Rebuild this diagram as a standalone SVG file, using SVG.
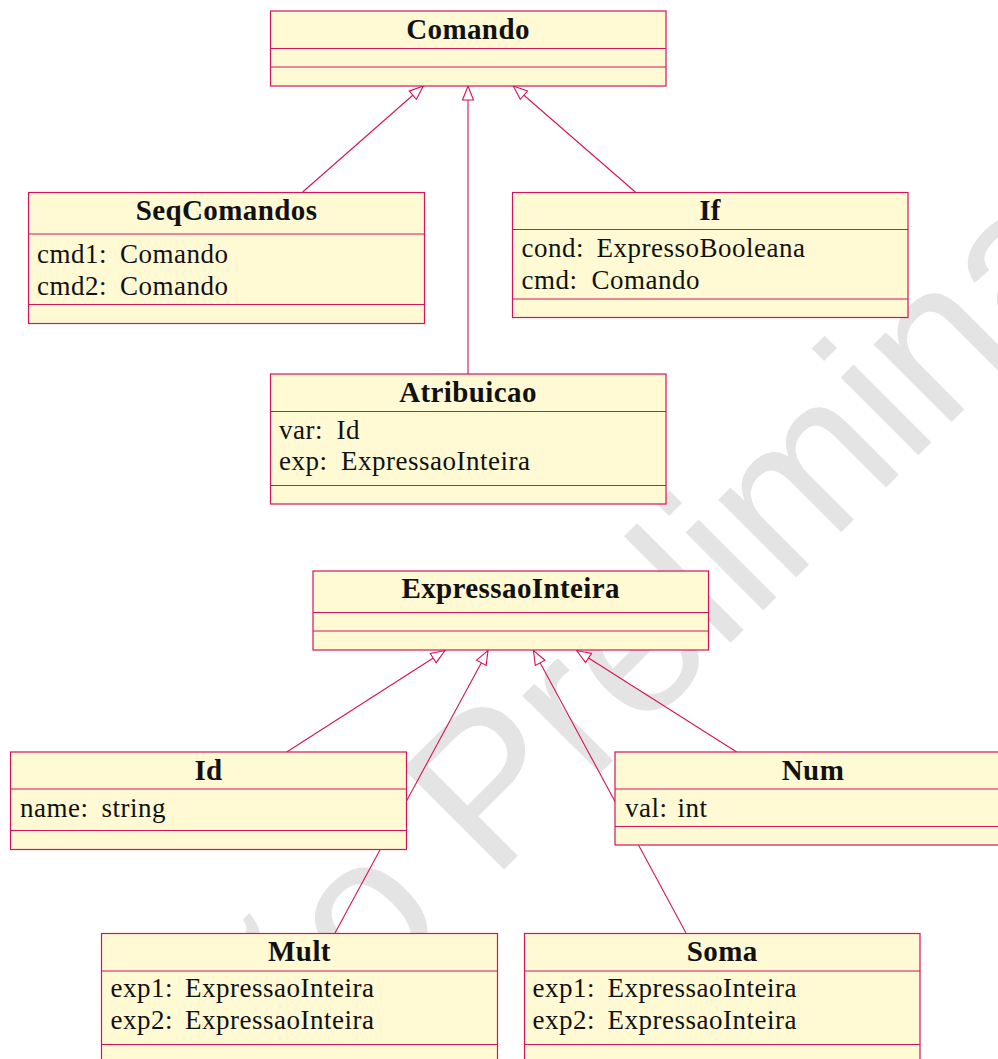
<svg xmlns="http://www.w3.org/2000/svg" width="998" height="1059" viewBox="0 0 998 1059">
  <defs>
    <style>
      .box { fill: #fff9d4; stroke: #d4145a; stroke-width: 1.2; }
      .sep { stroke: #d4145a; stroke-width: 1.2; }
      .edge { stroke: #d4145a; stroke-width: 1.1; fill: none; marker-end: url(#inherit); }
      .title { font-family: "Liberation Serif", "DejaVu Serif", serif; font-weight: bold; font-size: 29px; letter-spacing: 0.4px; text-anchor: middle; fill: #111; }
      .attr { font-family: "Liberation Serif", "DejaVu Serif", serif; font-size: 27px; letter-spacing: 0.5px; fill: #111; }
      .mark { font-family: "Liberation Sans", Arial, sans-serif; font-size: 208px; fill: #e4e4e4; text-anchor: middle; }
    </style>
    <!-- hollow triangle for generalisation -->
    <marker id="inherit" markerUnits="userSpaceOnUse" markerWidth="16" markerHeight="14" refX="15" refY="6.5" orient="auto">
      <path d="M1,1 L15,6.5 L1,12 Z" fill="#ffffff" stroke="#d4145a" stroke-width="1.1"/>
    </marker>
  </defs>

  <rect width="998" height="1059" fill="#ffffff"/>

  <!-- background watermark -->
  <text class="mark" transform="translate(573.5,800) rotate(-45)" x="0" y="0">Versão Preliminar</text>

  <!-- connectors -->
  <g id="connectors">
    <line class="edge" x1="302.7" y1="192" x2="423.3" y2="86"/>
    <line class="edge" x1="468" y1="374" x2="468" y2="86"/>
    <line class="edge" x1="635.3" y1="192" x2="513.3" y2="86"/>
    <line class="edge" x1="286.7" y1="752" x2="445" y2="650.5"/>
    <line class="edge" x1="335" y1="933" x2="488" y2="650.5"/>
    <line class="edge" x1="686" y1="933" x2="533.5" y2="650.5"/>
    <line class="edge" x1="736.7" y1="752" x2="576.7" y2="650.5"/>
  </g>

  <!-- classes -->
  <g id="Comando">
    <rect class="box" x="270.5" y="11" width="395.5" height="75"/>
    <line class="sep" x1="270.5" y1="48.5" x2="666" y2="48.5"/>
    <line class="sep" x1="270.5" y1="67" x2="666" y2="67"/>
    <text class="title" x="468" y="39">Comando</text>
  </g>

  <g id="SeqComandos">
    <rect class="box" x="28.5" y="192.5" width="396" height="131"/>
    <line class="sep" x1="28.5" y1="234" x2="424.5" y2="234"/>
    <line class="sep" x1="28.5" y1="304.5" x2="424.5" y2="304.5"/>
    <text class="title" x="226.5" y="220">SeqComandos</text>
    <text class="attr" x="37" y="263">cmd1: <tspan x="120">Comando</tspan></text>
    <text class="attr" x="37" y="295">cmd2: <tspan x="120">Comando</tspan></text>
  </g>

  <g id="If">
    <rect class="box" x="512.5" y="192.5" width="395.5" height="125"/>
    <line class="sep" x1="512.5" y1="229.5" x2="908" y2="229.5"/>
    <line class="sep" x1="512.5" y1="299" x2="908" y2="299"/>
    <text class="title" x="710" y="220">If</text>
    <text class="attr" x="521.5" y="257">cond: <tspan x="596.5">ExpressoBooleana</tspan></text>
    <text class="attr" x="521.5" y="289">cmd: <tspan x="591.5">Comando</tspan></text>
  </g>

  <g id="Atribuicao">
    <rect class="box" x="270.5" y="374" width="395.5" height="130"/>
    <line class="sep" x1="270.5" y1="411.5" x2="666" y2="411.5"/>
    <line class="sep" x1="270.5" y1="485.5" x2="666" y2="485.5"/>
    <text class="title" x="468" y="402">Atribuicao</text>
    <text class="attr" x="279" y="439">var: <tspan x="336.5">Id</tspan></text>
    <text class="attr" x="279" y="470">exp: <tspan x="341">ExpressaoInteira</tspan></text>
  </g>

  <g id="ExpressaoInteira">
    <rect class="box" x="313" y="571" width="395.5" height="79"/>
    <line class="sep" x1="313" y1="612.5" x2="708.5" y2="612.5"/>
    <line class="sep" x1="313" y1="631" x2="708.5" y2="631"/>
    <text class="title" x="510.7" y="598">ExpressaoInteira</text>
  </g>

  <g id="Id">
    <rect class="box" x="10.5" y="752" width="396" height="97.5"/>
    <line class="sep" x1="10.5" y1="789" x2="406.5" y2="789"/>
    <line class="sep" x1="10.5" y1="830.5" x2="406.5" y2="830.5"/>
    <text class="title" x="208.5" y="780">Id</text>
    <text class="attr" x="20" y="817">name: <tspan x="101.5">string</tspan></text>
  </g>

  <g id="Num">
    <rect class="box" x="615" y="752" width="396" height="93"/>
    <line class="sep" x1="615" y1="789" x2="1011" y2="789"/>
    <line class="sep" x1="615" y1="826.5" x2="1011" y2="826.5"/>
    <text class="title" x="813" y="779.5">Num</text>
    <text class="attr" x="625" y="817">val: <tspan x="677.5">int</tspan></text>
  </g>

  <g id="Mult">
    <rect class="box" x="101.5" y="933.5" width="396" height="140"/>
    <line class="sep" x1="101.5" y1="971" x2="497.5" y2="971"/>
    <line class="sep" x1="101.5" y1="1044.5" x2="497.5" y2="1044.5"/>
    <text class="title" x="299.5" y="961">Mult</text>
    <text class="attr" x="110.5" y="997">exp1: <tspan x="185">ExpressaoInteira</tspan></text>
    <text class="attr" x="110.5" y="1029">exp2: <tspan x="185">ExpressaoInteira</tspan></text>
  </g>

  <g id="Soma">
    <rect class="box" x="524.5" y="933.5" width="395.5" height="140"/>
    <line class="sep" x1="524.5" y1="971" x2="920" y2="971"/>
    <line class="sep" x1="524.5" y1="1044.5" x2="920" y2="1044.5"/>
    <text class="title" x="722.2" y="961">Soma</text>
    <text class="attr" x="532.5" y="997">exp1: <tspan x="607.5">ExpressaoInteira</tspan></text>
    <text class="attr" x="532.5" y="1029">exp2: <tspan x="607.5">ExpressaoInteira</tspan></text>
  </g>
</svg>
